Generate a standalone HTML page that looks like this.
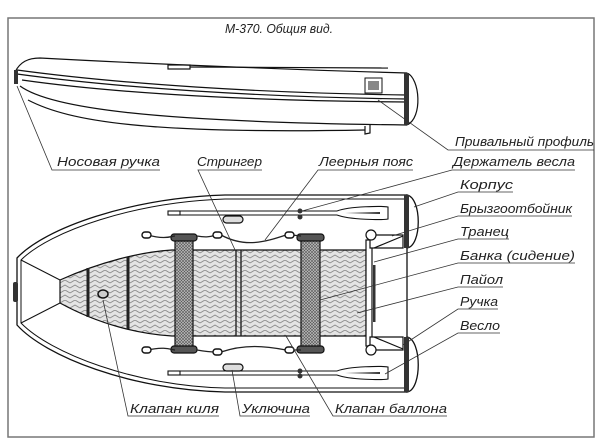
<!DOCTYPE html>
<html><head><meta charset="utf-8"><style>
html,body{margin:0;padding:0;background:#fff}
svg{display:block}
text{font-family:"Liberation Sans",sans-serif;font-style:italic;font-size:13px;fill:#222}
</style></head><body>
<svg width="600" height="446" viewBox="0 0 600 446" xmlns="http://www.w3.org/2000/svg">
<defs>
<pattern id="hb" width="10" height="10" patternUnits="userSpaceOnUse">
<rect width="10" height="10" fill="#e4e4e4"/>
<path d="M0,3 L5,0 L10,3 M0,8 L5,5 L10,8" stroke="#8a8a8a" stroke-width="0.9" fill="none"/>
</pattern>
<pattern id="cx" width="3" height="3" patternUnits="userSpaceOnUse">
<rect width="3" height="3" fill="#bbb"/>
<path d="M0,0 L3,3 M3,0 L0,3" stroke="#555" stroke-width="0.6"/>
</pattern>
</defs>
<rect x="8" y="18" width="586" height="419" fill="none" stroke="#777" stroke-width="1.5"/>
<text x="225" y="33" font-size="11" textLength="108" lengthAdjust="spacingAndGlyphs">М-370. Общия вид.</text>

<!-- side view -->
<g fill="none" stroke="#111" stroke-width="1.2">
<path d="M15,72 C20,62 28,58 40,58 C150,64 300,70 407,73"/>
<path d="M407,73 C420,78 423,118 407,125"/>
<path d="M17,70 C120,84 260,93 407,95"/>
<path d="M17,74 C120,88 260,97 407,99"/>
<path d="M22,80 C120,94 260,101 407,102"/>
<path d="M20,86 C50,108 150,122 407,125"/>
<path d="M28,100 C70,122 150,134 365,130"/>
<path d="M365,126 L365,134 L370,133 L370,125"/>
<rect x="168" y="65" width="22" height="4"/>
<path d="M190,67 L388,68"/>
<rect x="365" y="78" width="17" height="15" stroke-width="1"/>
</g>
<rect x="368" y="81" width="11" height="9" fill="#888"/>
<rect x="14" y="70" width="4" height="14" fill="#333"/>
<rect x="404" y="73" width="5" height="52" fill="#333"/>

<!-- top view hull -->
<g fill="#fff" stroke="#111" stroke-width="1.3">
<path d="M407,195 L225,195 C130,198 45,228 17,258 L17,325 C45,356 130,390 225,392 L407,392 Z"/>
</g>
<g fill="none" stroke="#111" stroke-width="1">
<path d="M407,199 L225,199 C135,202 50,231 21,260 L21,323 C50,353 135,386 225,388 L407,388"/>
<path d="M21,260 L60,280 M21,323 L60,303"/>
</g>
<g fill="#fff" stroke="#111" stroke-width="1.3">
<path d="M407,195 C422,198 422,246 407,248 Z"/>
<path d="M407,337 C422,340 422,390 407,392 Z"/>
</g>
<rect x="404" y="195" width="5" height="53" fill="#333"/>
<rect x="404" y="337" width="5" height="55" fill="#333"/>
<rect x="13" y="282" width="5" height="20" rx="2" fill="#333"/>

<!-- floor -->
<path d="M60,280 C100,262 140,252 172,250 L366,250 L366,336 L172,336 C140,334 100,325 60,303 Z" fill="url(#hb)" stroke="#111" stroke-width="1.2"/>
<g stroke="#222" stroke-width="3"><line x1="88" y1="268" x2="88" y2="317"/><line x1="128" y1="257" x2="128" y2="329"/></g>
<g stroke="#222" stroke-width="1.4"><line x1="236" y1="250" x2="236" y2="336"/><line x1="241" y1="250" x2="241" y2="336"/></g>
<ellipse cx="103" cy="294" rx="5" ry="4" fill="#ccc" stroke="#111" stroke-width="1.5"/>

<!-- seats -->
<g stroke="#111" stroke-width="1.2">
<rect x="175" y="237" width="18" height="113" fill="url(#cx)"/>
<rect x="301" y="237" width="19" height="113" fill="url(#cx)"/>
<rect x="171" y="234" width="26" height="7" rx="3" fill="#555"/>
<rect x="297" y="234" width="27" height="7" rx="3" fill="#555"/>
<rect x="171" y="346" width="26" height="7" rx="3" fill="#555"/>
<rect x="297" y="346" width="27" height="7" rx="3" fill="#555"/>
</g>

<!-- ropes -->
<g fill="none" stroke="#222" stroke-width="1.3">
<path d="M148,235 C165,240 172,236 175,236 M197,236 C208,238 212,236 216,235 M221,235 C245,248 265,242 286,235 M292,235 L301,236"/>
<path d="M148,350 C165,346 172,350 175,350 M197,350 C208,352 212,352 216,352 M221,352 C245,344 265,346 286,350 M292,350 L301,350"/>
</g>
<g fill="#fff" stroke="#111" stroke-width="1.4">
<rect x="142" y="232" width="9" height="6" rx="3"/>
<rect x="213" y="232" width="9" height="6" rx="3"/>
<rect x="285" y="232" width="9" height="6" rx="3"/>
<rect x="142" y="347" width="9" height="6" rx="3"/>
<rect x="213" y="349" width="9" height="6" rx="3"/>
<rect x="285" y="347" width="9" height="6" rx="3"/>
</g>

<!-- transom -->
<g fill="#fff" stroke="#111" stroke-width="1.2">
<rect x="366" y="240" width="6" height="106"/>
<path d="M370,235 L403,235 L403,248 L370,248 Z"/>
<path d="M370,337 L403,337 L403,350 L370,350 Z"/>
<path d="M374,248 L403,236 M374,337 L403,349"/>
<circle cx="371" cy="235" r="5"/>
<circle cx="371" cy="350" r="5"/>
</g>
<rect x="373" y="265" width="2.5" height="57" fill="#333"/>

<!-- oars -->
<g fill="none" stroke="#111" stroke-width="1.1">
<rect x="168" y="211" width="12" height="4"/>
<path d="M180,211 L337,211 M180,215 L337,215"/>
<path d="M337,211 C350,206 383,206 388,207 L388,219 C383,220 350,220 337,215"/>
<rect x="168" y="371" width="12" height="4"/>
<path d="M180,371 L337,371 M180,375 L337,375"/>
<path d="M337,371 C350,366 383,366 388,367 L388,379 C383,380 350,380 337,375"/>
</g>
<path d="M345,213 L380,212 L380,214 Z M345,373 L380,372 L380,374 Z" fill="#333"/>
<g fill="#333"><circle cx="300" cy="211" r="2.5"/><circle cx="300" cy="217" r="2.5"/><circle cx="300" cy="371" r="2.5"/><circle cx="300" cy="376" r="2.5"/></g>
<g fill="#ddd" stroke="#111" stroke-width="1.2">
<rect x="223" y="216" width="20" height="7" rx="3.5"/>
<rect x="223" y="364" width="20" height="7" rx="3.5"/>
</g>

<!-- leaders -->
<g fill="none" stroke="#333" stroke-width="0.8">
<path d="M378,100 L448,150 L594,150"/>
<path d="M17,86 L52,170 L160,170"/>
<path d="M236,252 L198,170 L262,170"/>
<path d="M265,240 L318,170 L413,170"/>
<path d="M302,211 L452,170 L575,170"/>
<path d="M414,207 L458,192 L513,192"/>
<path d="M392,236 L458,216 L572,216"/>
<path d="M374,262 L458,239 L509,239"/>
<path d="M320,300 L458,263 L575,263"/>
<path d="M357,313 L458,287 L503,287"/>
<path d="M403,345 L458,309 L498,309"/>
<path d="M385,374 L458,333 L500,333"/>
<path d="M103,300 L128,416 L219,416"/>
<path d="M232,370 L240,416 L310,416"/>
<path d="M286,336 L333,416 L447,416"/>
</g>
<g>
<text x="455" y="146" textLength="139" lengthAdjust="spacingAndGlyphs">Привальный профиль</text>
<text x="57" y="166" textLength="103" lengthAdjust="spacingAndGlyphs">Носовая ручка</text>
<text x="197" y="166" textLength="65" lengthAdjust="spacingAndGlyphs">Стрингер</text>
<text x="319" y="166" textLength="94" lengthAdjust="spacingAndGlyphs">Леерныя пояс</text>
<text x="453" y="166" textLength="122" lengthAdjust="spacingAndGlyphs">Держатель весла</text>
<text x="460" y="189" textLength="53" lengthAdjust="spacingAndGlyphs">Корпус</text>
<text x="460" y="213" textLength="112" lengthAdjust="spacingAndGlyphs">Брызгоотбойник</text>
<text x="460" y="236" textLength="49" lengthAdjust="spacingAndGlyphs">Транец</text>
<text x="460" y="260" textLength="115" lengthAdjust="spacingAndGlyphs">Банка (сидение)</text>
<text x="460" y="284" textLength="43" lengthAdjust="spacingAndGlyphs">Пайол</text>
<text x="460" y="306" textLength="38" lengthAdjust="spacingAndGlyphs">Ручка</text>
<text x="460" y="330" textLength="40" lengthAdjust="spacingAndGlyphs">Весло</text>
<text x="130" y="413" textLength="89" lengthAdjust="spacingAndGlyphs">Клапан киля</text>
<text x="242" y="413" textLength="68" lengthAdjust="spacingAndGlyphs">Уключина</text>
<text x="335" y="413" textLength="112" lengthAdjust="spacingAndGlyphs">Клапан баллона</text>
</g>
</svg>
</body></html>
